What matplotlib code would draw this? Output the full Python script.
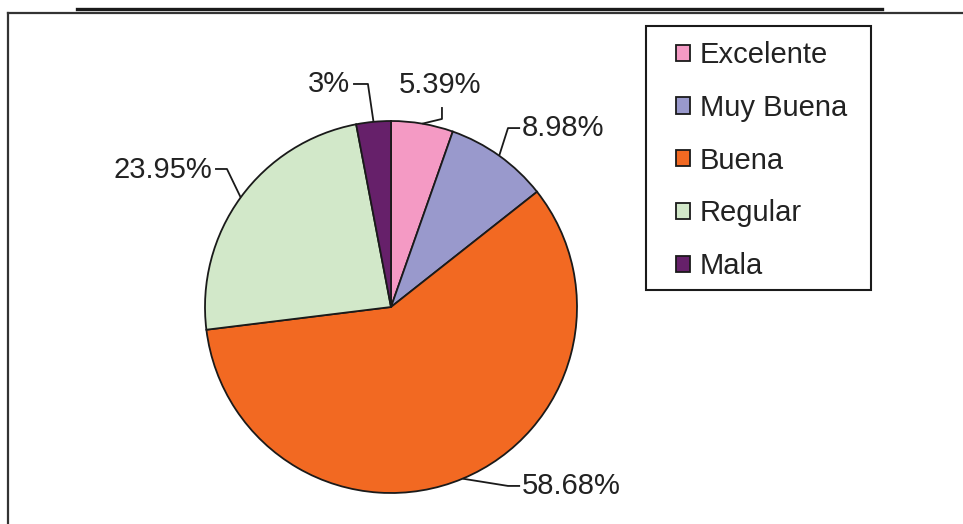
import matplotlib
matplotlib.use("Agg")
import numpy as np
import matplotlib.pyplot as plt
from matplotlib.patches import Patch, Rectangle
from matplotlib.lines import Line2D

plt.rcParams['font.family'] = ['Liberation Sans', 'DejaVu Sans']

# data
categorias = ['Excelente', 'Muy Buena', 'Buena', 'Regular', 'Mala']
porcentajes = [5.39, 8.98, 58.68, 23.95, 3]
etiquetas = ['5.39%', '8.98%', '58.68%', '23.95%', '3%']
colores = ['#F49AC4', '#9999CC', '#F26922', '#D2E8C9', '#66206A']

W, H = 963, 524
cx, cy, R = 391, 307, 186  # pie centre / radius in pixels

fig = plt.figure(figsize=(W / 100, H / 100), dpi=100)
ax = fig.add_axes([0, 0, 1, 1])

wedges, _ = ax.pie(porcentajes, colors=colores, startangle=90, counterclock=False,
                   radius=1, wedgeprops=dict(edgecolor='#1a1a1a', linewidth=1.3))
ax.set_xlim(-cx / R, (W - cx) / R)
ax.set_ylim(-(H - cy) / R, cy / R)
ax.set_aspect('auto')
ax.axis('off')

# leader lines: elbow, end of line, text anchor (units of radius)
guias = [
    ((0.274, 1.011), (0.274, 1.075), (0.263, 1.194), 'center'),
    ((0.629, 0.962), (0.694, 0.962), (0.704, 0.962), 'left'),
    ((0.629, -0.962), (0.694, -0.962), (0.704, -0.962), 'left'),
    ((-0.882, 0.742), (-0.946, 0.742), (-0.962, 0.737), 'right'),
    ((-0.124, 1.199), (-0.204, 1.199), (-0.220, 1.199), 'right'),
]
for w, lab, (elb, fin, txt, ha) in zip(wedges, etiquetas, guias):
    ang = np.deg2rad((w.theta1 + w.theta2) / 2)
    x0, y0 = np.cos(ang), np.sin(ang)
    ax.plot([x0, elb[0], fin[0]], [y0, elb[1], fin[1]], color='#1a1a1a', lw=1.3,
            solid_capstyle='butt')
    ax.text(txt[0], txt[1], lab, ha=ha, va='center', fontsize=21, color='#222222')

# legend
handles = [Patch(facecolor=c, edgecolor='#1a1a1a', linewidth=1.3) for c in colores]
leg = fig.legend(handles, categorias, loc='upper left',
                 bbox_to_anchor=(676 / W, 1 - 41 / H), frameon=False,
                 fontsize=21, handlelength=0.48, handleheight=0.48,
                 handletextpad=0.34, labelspacing=0.85, borderpad=0,
                 borderaxespad=0, labelcolor='#222222')
fig.add_artist(Rectangle((646 / W, 1 - 290 / H), (871 - 646) / W, (290 - 26) / H,
                         transform=fig.transFigure, fill=False,
                         edgecolor='#1a1a1a', linewidth=1.5))

# outer frame lines
fig.add_artist(Line2D([77 / W, 882 / W], [1 - 8.5 / H, 1 - 8.5 / H],
                      transform=fig.transFigure, color='#1a1a1a', lw=2.4))
fig.add_artist(Line2D([8 / W, 1.0, ], [1 - 13 / H, 1 - 13 / H],
                      transform=fig.transFigure, color='#333333', lw=1.6))
fig.add_artist(Line2D([8 / W, 8 / W], [1 - 13 / H, 0],
                      transform=fig.transFigure, color='#333333', lw=1.6))

fig.savefig('out.png', dpi=100)
